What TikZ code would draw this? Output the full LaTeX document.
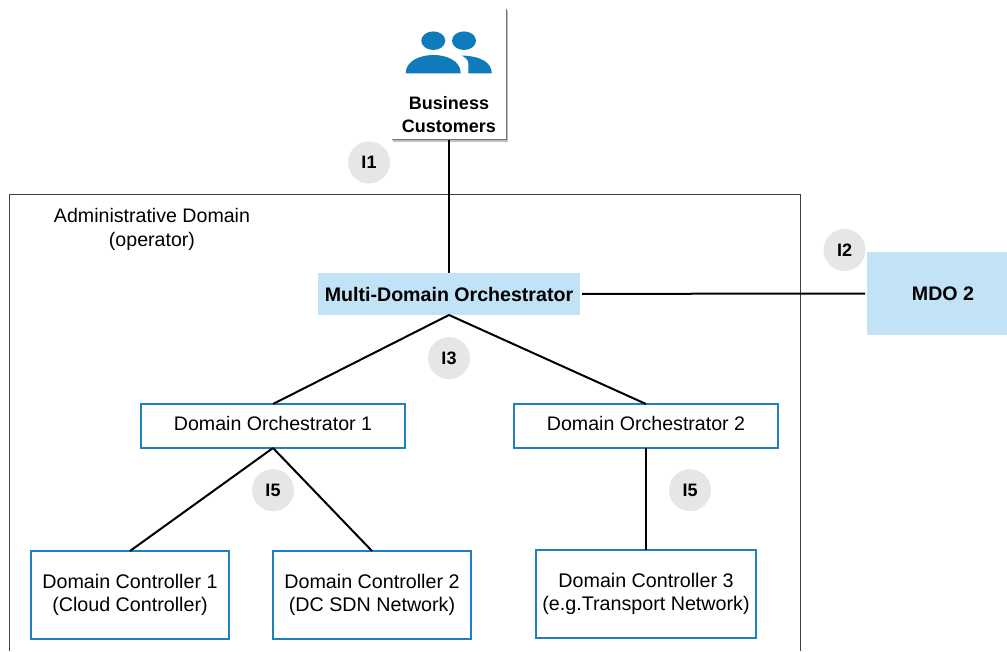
\documentclass[tikz,border=0pt]{standalone}
\usepackage{fontspec}
\setmainfont{Liberation Sans}
\usetikzlibrary{positioning}
\definecolor{boxblue}{HTML}{1F80BE}
\definecolor{iconblue}{HTML}{0F7BBB}
\definecolor{fillblue}{HTML}{C2E2F5}
\definecolor{tagfill}{HTML}{E6E6E6}
\tikzset{
	orch/.style={fill=fillblue, outer sep=0pt, inner sep=0pt, font=\fontsize{19.6}{23.5}\selectfont\bfseries},
	dorch/.style={draw=boxblue, line width=2pt, fill=white, outer sep=0pt, inner sep=0pt, minimum width=264pt, minimum height=44pt, text depth=5pt, font=\fontsize{19.6}{23.5}\selectfont},
	dctrl/.style={draw=boxblue, line width=2.6pt, fill=white, outer sep=0pt, inner sep=0pt, minimum height=88pt, align=center, font=\fontsize{19.7}{23.5}\selectfont},
	tag/.style={circle, fill=tagfill, minimum size=42pt, inner sep=0pt, font=\fontsize{18}{20}\selectfont\bfseries},
	link/.style={line width=2pt, black}
}
\begin{document}
\begin{tikzpicture}[x=1pt, y=1pt]
	\useasboundingbox (0,0) rectangle (1007,651);
	
	\draw[line width=1pt, black!75] (9.5,0) -- (9.5,456) -- (800,456) -- (800,0);
	\node[align=center, font=\fontsize{19.6}{24}\selectfont](admin) at (152,422){Administrative Domain\\(operator)};
	
	\node[orch, minimum width=262pt, minimum height=42pt](mdo) at (449,357){Multi-Domain Orchestrator};
	\node[orch, minimum width=140pt, minimum height=83pt, anchor=west](mdo2) at (867,357.5){\hspace*{12pt}MDO 2};
	
	\node[dorch, below = 89pt of mdo, xshift = -176pt](do1){Domain Orchestrator 1};
	\node[dorch, below = 89pt of mdo, xshift = 197pt](do2){Domain Orchestrator 2};
	
	\node[dctrl, minimum width=198pt, below = 103pt of do1, xshift = -143pt](dc1){Domain Controller 1\\(Cloud Controller)};
	\node[dctrl, minimum width=198pt, below = 103pt of do1, xshift = 99pt](dc2){Domain Controller 2\\(DC SDN Network)};
	\node[dctrl, minimum width=220pt, below = 102pt of do2](dc3){Domain Controller 3\\(e.g.Transport Network)};
	
	\node[minimum width=114pt, minimum height=50pt, inner sep=0pt, outer sep=0pt, align=center, font=\fontsize{18}{23}\selectfont\bfseries](bc) at (449,536){Business\\Customers};
	\draw[line width=2.5pt, black!25] (bc.south west) ++(1,-1) -- ++(114,0) -- ++(0,130);
	\draw[line width=1pt, black!55] (bc.south west) -- (bc.south east) -- ++(0,131);
	
	\fill[iconblue] (433.3,610.3) ellipse (12 and 9.3);
	\fill[iconblue] (464,610.3) ellipse (12 and 9.3);
	\fill[iconblue] (405.7,577.7) .. controls (405.7,590) and (420,596) .. (433.5,596) .. controls (447,596) and (460.7,590) .. (460.7,577.7) -- cycle;
	\fill[iconblue] (461.5,595.5) .. controls (480,595) and (491.7,589) .. (491.7,577.7) -- (468.3,577.7) -- (468.3,588) .. controls (468.3,591) and (465,594) .. (461.5,595.5) -- cycle;
	
	\node[tag](i1) at (369,488.5){I1};
	\node[tag](i2) at (844.5,401){I2};
	\node[tag, below = 22pt of mdo](i3){I3};
	\node[tag, below = 21pt of do1](i5a){I5};
	\node[tag, below = 21pt of do2, xshift = 44pt](i5b){I5};
	
	\draw[link, line width=1.6pt] (bc) -- (mdo);
	\draw[link, shorten <=2pt, shorten >=2pt] (mdo) -- (mdo2);
	\draw[link] (mdo.south) -- (do1.north);
	\draw[link] (mdo.south) -- (do2.north);
	\draw[link] (do1.south) -- (dc1.north);
	\draw[link] (do1.south) -- (dc2.north);
	\draw[link] (do2.south) -- (dc3.north);
\end{tikzpicture}
\end{document}
